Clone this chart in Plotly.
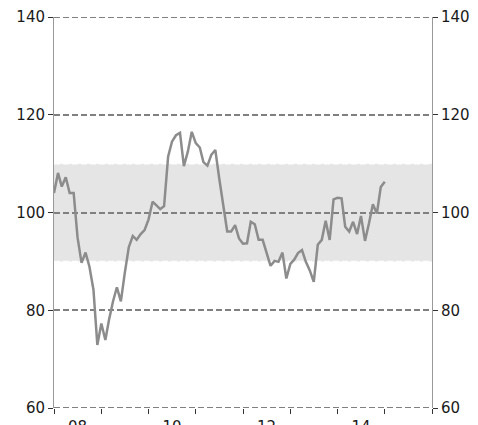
import pandas as pd
import plotly.graph_objects as go

# monthly index, Jan 2008 - Jan 2015
months = pd.date_range("2008-01-01", periods=85, freq="MS")
values = [
    104.0, 108.1, 105.3, 107.2, 104.0, 104.0, 94.9, 89.7, 91.8, 88.9,
    84.2, 72.9, 77.3, 73.9, 78.0, 81.8, 84.7, 81.8, 87.6, 92.9,
    95.2, 94.4, 95.6, 96.4, 98.6, 102.2, 101.5, 100.7, 101.3, 111.4,
    114.5, 115.8, 116.3, 109.5, 112.5, 116.5, 114.2, 113.3, 110.3, 109.6,
    111.8, 112.8, 107.0, 101.5, 96.1, 96.1, 97.4, 94.7, 93.6, 93.7,
    98.1, 97.6, 94.4, 94.4, 91.7, 89.1, 90.1, 89.9, 91.8, 86.5,
    89.5, 90.4, 91.7, 92.3, 89.9, 88.1, 85.8, 93.4, 94.4, 98.3,
    94.4, 102.7, 103.0, 102.9, 97.1, 96.1, 98.1, 95.6, 99.3, 94.2,
    97.8, 101.7, 99.8, 105.2, 106.3,
]

band_low, band_high = 90, 110
y_min, y_max = 60, 140
year_label_pos = ["2008-07-01", "2010-07-01", "2012-07-01", "2014-07-01"]
year_labels = ["08", "10", "12", "14"]

GRID = "#808080"
LINE = "#8c8c8c"
GRID_DASH = "6px,3px"

fig = go.Figure()

fig.add_trace(go.Scatter(
    x=months, y=values, mode="lines",
    line=dict(color=LINE, width=2.5), showlegend=False, hoverinfo="skip",
))
# invisible copy so the right-hand axis gets drawn
fig.add_trace(go.Scatter(
    x=months, y=values, mode="lines", yaxis="y2", opacity=0,
    showlegend=False, hoverinfo="skip",
))

# shaded 90-110 band
fig.add_shape(type="rect", xref="paper", x0=0, x1=1, y0=band_low, y1=band_high,
              fillcolor="#e5e5e5", line_width=0, layer="below")
for yv in (band_low, band_high):
    fig.add_shape(type="line", xref="paper", x0=0, x1=1, y0=yv, y1=yv,
                  line=dict(color="white", width=1.5, dash=GRID_DASH), layer="below")

# plotly skips gridlines on the range edges, draw those two by hand
for yv in (y_min, y_max):
    fig.add_shape(type="line", xref="paper", x0=0, x1=1, y0=yv, y1=yv,
                  line=dict(color=GRID, width=2, dash=GRID_DASH), layer="below")

font = dict(family="DejaVu Sans", size=15, color="#1a1a1a")

# page body has an 8px default margin, so the figure is a bit smaller than the window
fig.update_layout(
    width=470, height=417,
    margin=dict(l=46, r=46, t=9, b=17),
    paper_bgcolor="white", plot_bgcolor="rgba(0,0,0,0)",
    font=font,
    xaxis=dict(
        range=["2008-01-01", "2016-01-01"],
        tickmode="array", tickvals=year_label_pos, ticktext=year_labels,
        ticks="", showgrid=False, zeroline=False, showline=False,
        ticklabelstandoff=8, automargin=False,
        minor=dict(tickmode="linear", tick0="2008-01-01", dtick="M12",
                   ticks="outside", ticklen=5, tickcolor="#333", showgrid=False),
    ),
    yaxis=dict(
        range=[y_min, y_max], dtick=20, side="left",
        showgrid=True, gridcolor=GRID, gridwidth=2, griddash=GRID_DASH,
        zeroline=False, showline=True, linecolor="#999", linewidth=1,
        ticks="outside", ticklen=5, tickcolor="#333", automargin=False,
    ),
    yaxis2=dict(
        range=[y_min, y_max], dtick=20, side="right", overlaying="y",
        showgrid=False, zeroline=False, showline=True, linecolor="#999", linewidth=1,
        ticks="outside", ticklen=5, tickcolor="#333", automargin=False,
    ),
)

fig.write_html("out.html")
